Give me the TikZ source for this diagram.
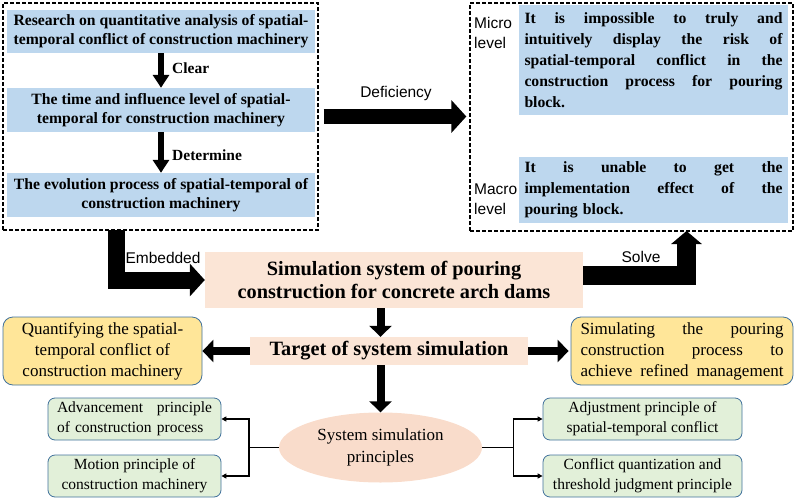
\documentclass[tikz,border=0pt]{standalone}
\usepackage{fontspec}
\setmainfont{Liberation Serif}
\newfontfamily\lsans{Liberation Sans}
\usetikzlibrary{arrows.meta,shapes.geometric,calc}
\definecolor{bluefill}{HTML}{BDD7EE}
\definecolor{pinkfill}{HTML}{FBE5D6}
\definecolor{ellfill}{HTML}{F9DCCB}
\definecolor{yellowfill}{HTML}{FFE699}
\definecolor{greenfill}{HTML}{E2F0D9}
\definecolor{edgeblue}{HTML}{41719C}
\newcommand{\jl}[2]{\makebox[#1][s]{\spaceskip=0.25em plus 1fil\relax #2}}
\begin{document}
\begin{tikzpicture}[x=1pt,y=-1pt,
  bluebox/.style={fill=bluefill, inner sep=0pt, align=center, font=\fontsize{15.7}{19}\selectfont\bfseries},
  rbluebox/.style={fill=bluefill, inner sep=0pt, align=left, text width=258pt, font=\fontsize{15.7}{21}\selectfont\bfseries},
  dashbox/.style={draw=black, line width=1.3pt, dash pattern=on 4pt off 2pt},
  pinkbox/.style={fill=pinkfill, inner sep=0pt, align=center, font=\fontsize{20.3}{23}\selectfont\bfseries},
  yelbox/.style={fill=yellowfill, draw=edgeblue, line width=0.8pt, rounded corners=10pt, inner sep=0pt, font=\fontsize{17}{21}\selectfont},
  grnbox/.style={fill=greenfill, draw=edgeblue, line width=0.8pt, rounded corners=7pt, inner sep=0pt, font=\fontsize{15.5}{20}\selectfont},
  sanslab/.style={font=\lsans\fontsize{15.5}{19.5}\selectfont, inner sep=0pt, align=left},
  boldlab/.style={font=\fontsize{15.5}{19}\selectfont\bfseries, inner sep=0pt},
  smallarrow/.style={line width=5.5pt, -{Triangle[width=16pt,length=13pt]}},
  bigarrow/.style={line width=16pt, line join=miter, -{Triangle[width=32pt,length=15pt]}},
  medarrow/.style={line width=8pt, -{Triangle[width=22pt,length=11pt]}},
  thinarrow/.style={line width=1.4pt, -{Triangle[width=5pt,length=5pt]}}
]
\useasboundingbox (0,0) rectangle (795,498);

% left dashed group
\node[dashbox, minimum width=315pt, minimum height=227pt, inner sep=0pt] (lbox) at (160.5,116.5) {};
\node[bluebox, minimum width=308pt, minimum height=43pt] (lb1) at (161,31.5)
  {Research on quantitative analysis of spatial-\\temporal conflict of construction machinery};
\node[bluebox, minimum width=308pt, minimum height=44pt] (lb2) at (161,110)
  {The time and influence level of spatial-\\temporal for construction machinery};
\node[bluebox, minimum width=308pt, minimum height=44pt] (lb3) at (161,195)
  {The evolution process of spatial-temporal of\\construction machinery};
\draw[smallarrow] (lb1.south) -- (lb2.north);
\draw[smallarrow] (lb2.south) -- (lb3.north);
\node[boldlab, anchor=west] (lclear) at (172,68) {Clear};
\node[boldlab, anchor=west] (ldet) at (172,155) {Determine};

% right dashed group
\node[dashbox, minimum width=323pt, minimum height=228pt, inner sep=0pt] (rbox) at (631.5,117) {};
\node[rbluebox, minimum width=269pt, minimum height=110pt] (rb1) at (653.5,60)
  {\jl{258pt}{It is impossible to truly and}\\
   \jl{258pt}{intuitively display the risk of}\\
   \jl{258pt}{spatial-temporal conflict in the}\\
   \jl{258pt}{construction process for pouring}\\
   block.};
\node[rbluebox, minimum width=269pt, minimum height=66pt] (rb2) at (653.5,190)
  {\jl{258pt}{It is unable to get the}\\
   \jl{258pt}{implementation effect of the}\\
   pouring block.};
\node[sanslab, anchor=west] (lmicro) at (474,33) {Micro\\level};
\node[sanslab, anchor=west] (lmacro) at (474,199) {Macro\\level};

% deficiency arrow
\draw[bigarrow, line width=15pt, shorten <=5pt, shorten >=3pt] (lbox.east) -- (lbox.east -| rbox.west);
\node[sanslab] (ldef) at (396,93) {Deficiency};

% simulation system
\node[pinkbox, minimum width=378pt, minimum height=56pt] (sim) at (394,280)
  {Simulation system of pouring\\construction for concrete arch dams};
\coordinate (embstart) at (116.5,230);
\draw[bigarrow, line width=17pt] (embstart) |- (sim.west);
\node[sanslab] (lemb) at (163,258) {Embedded};
\coordinate (solveend) at (686.5,231);
\draw[bigarrow, line width=19pt, -{Triangle[width=30pt,length=13pt]}] ([yshift=5pt]sim.east) -| (solveend);
\node[sanslab] (lsolve) at (641,257) {Solve};

% target
\node[pinkbox, minimum width=278pt, minimum height=28pt] (tgt) at (389,351) {Target of system simulation};
\node[yelbox, minimum width=199pt, minimum height=68pt, align=center] (yl) at (102.5,351)
  {Quantifying the spatial-\\temporal conflict of\\construction machinery};
\node[yelbox, minimum width=222pt, minimum height=68pt, text width=203pt, align=left] (yr) at (682,351)
  {\jl{203pt}{Simulating the pouring}\\\jl{203pt}{construction process to}\\\jl{203pt}{achieve refined management}};

% ellipse
\node[ellipse, fill=ellfill, minimum width=203pt, minimum height=70pt, inner sep=0pt, align=center,
      font=\fontsize{17}{22}\selectfont] (ell) at (380.5,447.5) {System simulation\\principles};

\draw[medarrow] (sim.south -| ell.north) -- (tgt.north -| ell.north);
\draw[medarrow] (tgt.south -| ell.north) -- (ell.north);
\draw[medarrow] (tgt.west) -- (yl.east);
\draw[medarrow, shorten >=2pt] (tgt.east) -- (yr.west);

% green boxes
\node[grnbox, minimum width=173pt, minimum height=42pt, text width=155pt, align=left] (gA) at (134.5,419)
  {\jl{155pt}{Advancement principle}\\of construction process};
\node[grnbox, minimum width=173pt, minimum height=42pt, align=center] (gB) at (134.5,476)
  {Motion principle of\\construction machinery};
\node[grnbox, minimum width=199pt, minimum height=42pt, align=center] (gC) at (642.5,419)
  {Adjustment principle of\\spatial-temporal conflict};
\node[grnbox, minimum width=199pt, minimum height=42pt, align=center] (gD) at (642.5,476)
  {Conflict quantization and\\threshold judgment principle};

\draw[line width=1.4pt] (ell.west) -- ++(-30,0) coordinate (lj);
\draw[thinarrow] (lj) |- (gA.east);
\draw[thinarrow] (lj) |- (gB.east);
\draw[line width=1.4pt] (ell.east) -- ++(31,0) coordinate (rj);
\draw[thinarrow] (rj) |- (gC.west);
\draw[thinarrow] (rj) |- (gD.west);
\end{tikzpicture}
\end{document}
